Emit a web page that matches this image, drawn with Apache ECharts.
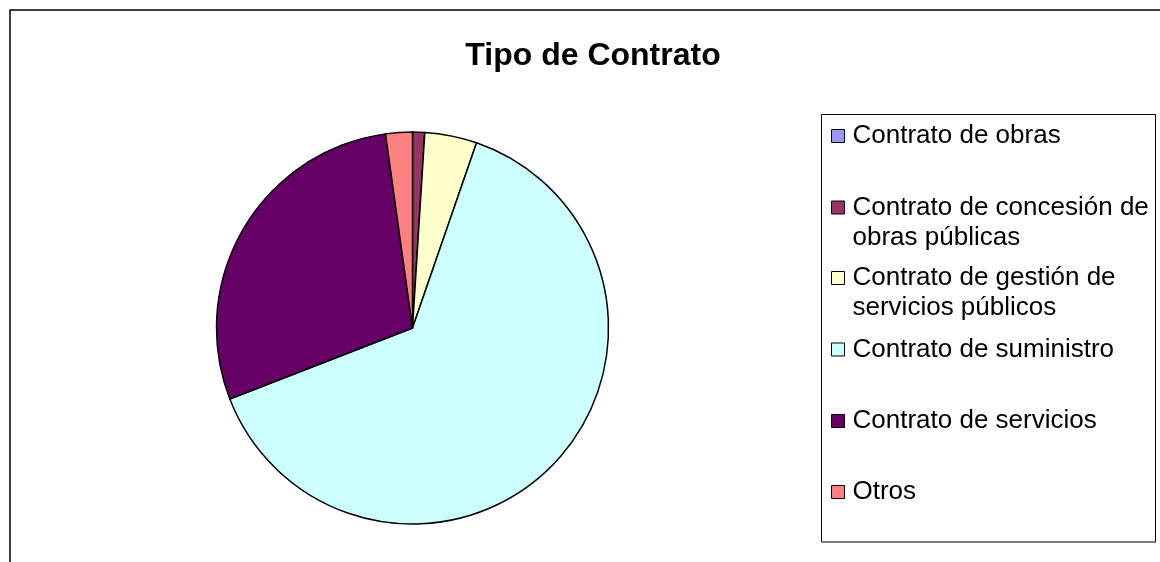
<!DOCTYPE html>
<html>
<head>
<meta charset="utf-8">
<script src="https://cdn.jsdelivr.net/npm/echarts@6/dist/echarts.min.js"></script>
<style>
html,body{margin:0;padding:0;background:#fff;}
#chart{width:1160px;height:562px;}
</style>
</head>
<body>
<div id="chart"></div>
<script>
const titleText = 'Tipo de Contrato';
const categories = [
  'Contrato de obras',
  'Contrato de concesión de obras públicas',
  'Contrato de gestión de servicios públicos',
  'Contrato de suministro',
  'Contrato de servicios',
  'Otros'
];
const legendLines = [
  ['Contrato de obras'],
  ['Contrato de concesión de', 'obras públicas'],
  ['Contrato de gestión de', 'servicios públicos'],
  ['Contrato de suministro'],
  ['Contrato de servicios'],
  ['Otros']
];
const values = [0, 1.0, 4.3, 63.8, 28.7, 2.2];
const colors = ['#9999FF', '#993366', '#FFFFCC', '#CCFFFF', '#660066', '#FF8080'];

const FONT = '"Liberation Sans", Arial, sans-serif';
const legendCenters = [136, 207.5, 278, 349.5, 421, 492];
const ICON = 13;
const LH = 30;

const chart = echarts.init(document.getElementById('chart'), null, {renderer: 'canvas'});

const legends = categories.map((name, i) => {
  const lines = legendLines[i];
  // leading blank line keeps the first text line level with the marker
  const text = (lines.length > 1 ? '\n' : '') + lines.map(l => '{t|' + l + '}').join('\n');
  const total = lines.length > 1 ? lines.length * 2 - 1 : 1;
  return {
    orient: 'vertical',
    left: 831,
    top: legendCenters[i] - total * LH / 2,
    padding: 0,
    itemWidth: ICON,
    itemHeight: ICON,
    itemGap: 0,
    icon: 'rect',
    itemStyle: {borderColor: '#000', borderWidth: 1},
    textStyle: {
      fontFamily: FONT, fontSize: 26, color: '#000', lineHeight: LH,
      rich: {t: {fontFamily: FONT, fontSize: 26, color: '#000', lineHeight: LH, padding: [0, 0, 0, 3]}}
    },
    selectedMode: false,
    data: [name],
    formatter: () => text
  };
});

chart.setOption({
  animation: false,
  backgroundColor: '#fff',
  color: colors,
  title: {
    text: titleText,
    left: 588,
    top: 51,
    textAlign: 'center',
    textVerticalAlign: 'middle',
    textStyle: {fontFamily: FONT, fontSize: 32, fontWeight: 'bold', color: '#000'}
  },
  graphic: [
    {type: 'rect', shape: {x: 10, y: 10, width: 1200, height: 600}, style: {fill: 'none', stroke: '#000', lineWidth: 1.5}, silent: true},
    {type: 'rect', shape: {x: 821.5, y: 114.5, width: 334, height: 427.5}, style: {fill: 'none', stroke: '#000', lineWidth: 1}, silent: true}
  ],
  legend: legends,
  series: [{
    type: 'pie',
    center: [412.5, 328],
    radius: 196,
    startAngle: 90,
    clockwise: true,
    label: {show: false},
    labelLine: {show: false},
    emphasis: {disabled: true},
    itemStyle: {borderColor: '#000', borderWidth: 1.5},
    data: categories.map((n, i) => ({name: n, value: values[i]}))
  }]
});
</script>
</body>
</html>
